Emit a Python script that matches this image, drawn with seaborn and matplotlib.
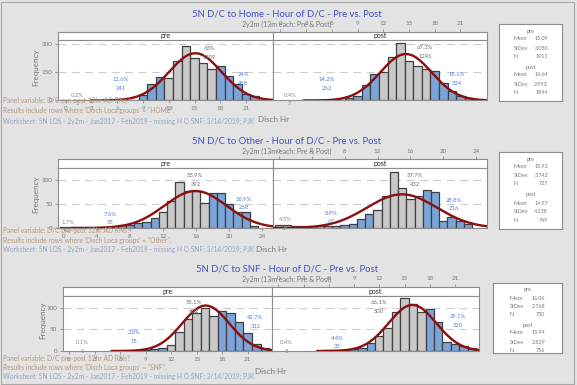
import numpy as np
import pandas as pd
import matplotlib
matplotlib.use('Agg')
import matplotlib.pyplot as plt
from matplotlib.patches import Rectangle
import seaborn as sns

sns.set_theme(style='white')
plt.rcParams['font.family'] = ['Lato', 'DejaVu Sans']

# --- data: counts per discharge hour (bin centres 0..23) ---
hours = list(range(24))
home_pre = [0, 0, 0, 0, 0, 0, 3, 1, 3, 28, 85, 124, 120, 210, 290, 224, 198, 167, 182, 132, 85, 36, 23, 0]
home_post = [0, 0, 0, 0, 0, 3, 4, 4, 12, 25, 80, 141, 150, 231, 302, 208, 184, 166, 155, 95, 50, 22, 12, 0]
other_pre = [2, 2, 1, 1, 1, 2, 3, 6, 7, 10, 12, 20, 33, 56, 96, 77, 77, 53, 73, 73, 50, 34, 33, 5]
other_post = [6, 6, 5, 4, 4, 4, 5, 4, 6, 9, 18, 30, 37, 66, 118, 84, 60, 67, 80, 75, 15, 22, 15, 9]
snf_pre = [0, 0, 0, 0, 0, 0, 1, 0, 1, 2, 4, 8, 14, 45, 74, 88, 99, 82, 93, 88, 67, 42, 16, 6]
snf_post = [0, 0, 0, 0, 0, 1, 2, 2, 3, 4, 6, 18, 34, 53, 91, 123, 109, 90, 98, 68, 20, 16, 12, 6]

region_breaks = [7, 12, 18]

# summary stats (mean, stdev, N)
home_pre_stats = (15.09, 3.050, 1911)
home_post_stats = (14.64, 2.993, 1844)
other_pre_stats = (15.92, 3.742, 727)
other_post_stats = (14.97, 4.238, 749)
snf_pre_stats = (16.06, 2.768, 730)
snf_post_stats = (15.94, 2.829, 756)

# region labels (percent, count)
home_pre_pct = ['0.2%', '12.6%', '63%', '24%']
home_pre_n = ['3', '241', '1209', '458']
home_post_pct = ['0.4%', '14.2%', '67.3%', '18.1%']
home_post_n = ['7', '262', '1241', '334']
other_pre_pct = ['1.7%', '7.6%', '53.9%', '36.9%']
other_pre_n = ['12', '55', '392', '268']
other_post_pct = ['4.5%', '8.9%', '57.7%', '28.8%']
other_post_n = ['34', '67', '432', '216']
snf_pre_pct = ['0.1%', '2.0%', '55.1%', '42.7%']
snf_pre_n = ['1', '15', '402', '312']
snf_post_pct = ['0.4%', '4.4%', '66.1%', '29.1%']
snf_post_n = ['3', '33', '500', '220']

# --- styling ---
BG = '#e3e3e3'
BAR_COLORS = ['#c9c9c9', '#7ba4d8', '#c9c9c9', '#7ba4d8']
LBL_COLORS = ['#8a8a8a', '#4f80d8', '#6e6e6e', '#4f80d8']
EDGE = '#404040'
CURVE = '#8b0f0f'
TITLE = '#3f4fc8'
GREY = '#777777'
SPINE = '#8c8c8c'
FOOT = '#b39a7e'
FOOT_WS = '#8fa6c2'

W, H = 577, 385
fig = plt.figure(figsize=(W / 100, H / 100), dpi=100, facecolor=BG)


def add_ax(x0, y0, x1, y1):
    return fig.add_axes([x0 / W, 1 - y1 / H, (x1 - x0) / W, (y1 - y0) / H])


def ftext(x, y, s, **kw):
    fig.text(x / W, 1 - y / H, s, **kw)


def style_spines(ax):
    for sp in ax.spines.values():
        sp.set_color(SPINE)
        sp.set_linewidth(0.8)


def draw_panel(lay, x0, x1, counts, stats, pcts, ns, lpos, label, first):
    strip = add_ax(x0, lay['strip'], x1, lay['top'])
    ax = add_ax(x0, lay['top'], x1, lay['bottom'])

    df = pd.DataFrame({'hour': hours, 'n': counts})
    df['region'] = np.searchsorted(region_breaks, df['hour'], side='right')
    df = df[df['n'] > 0]
    for r, col in enumerate(BAR_COLORS):
        sub = df[df['region'] == r]
        if len(sub):
            sns.histplot(data=sub, x='hour', weights='n', discrete=True, color=col,
                         edgecolor=EDGE, linewidth=0.9, alpha=1, ax=ax, zorder=2)

    mean, sd, n = stats
    lo, hi = lay['xlim']
    xs = np.linspace(max(lo, mean - 4 * sd), min(hi, mean + 4 * sd), 300)
    ys = n * np.exp(-0.5 * ((xs - mean) / sd) ** 2) / (sd * np.sqrt(2 * np.pi))
    sns.lineplot(x=xs, y=ys, ax=ax, color=CURVE, linewidth=1.7, zorder=4)

    for yt in lay['yticks'][1:]:
        ax.axhline(yt, color='#cccccc', lw=0.8, dashes=(7, 5), zorder=0)

    for i in range(4):
        hx, hy = lpos[i]
        ax.text(hx, hy, pcts[i], color=LBL_COLORS[i], fontsize=4.2, ha='center', va='center', zorder=5)
        ax.annotate(ns[i], (hx, hy), xytext=(0, -6.2), textcoords='offset points',
                    color=LBL_COLORS[i], fontsize=4.2, ha='center', va='center', zorder=5,
                    annotation_clip=False)

    ax.set_xlim(lo, hi)
    ax.set_ylim(0, lay['ymax'])
    ax.set_xlabel('')
    ax.set_ylabel('')
    ax.set_facecolor('white')
    style_spines(ax)
    ax.tick_params(length=2.5, width=0.6, color=SPINE, labelsize=4.5, labelcolor=GREY, pad=1.5)
    if first:
        ax.set_yticks(lay['yticks'])
        ax.set_xticks(lay['xticks'])
        ax.tick_params(left=True, bottom=True)
    else:
        ax.set_yticks([])
        ax.set_xticks([])

    strip.set_facecolor('white')
    style_spines(strip)
    strip.set_yticks([])
    strip.set_xlim(lo, hi)
    if first:
        strip.set_xticks([])
    else:
        strip.xaxis.tick_top()
        strip.set_xticks(lay['xticks'])
        strip.tick_params(top=True, length=2.5, width=0.6, color=SPINE, labelsize=4.5,
                          labelcolor=GREY, pad=1.5)
    strip.text(0.5, 0.5, label, transform=strip.transAxes, ha='center', va='center',
               fontsize=5, color='#222222')


def draw_block(lay, pre, post, pre_stats, post_stats, pre_pct, pre_n, post_pct, post_n, where):
    ftext(287, lay['title_y'], lay['title'], color=TITLE, fontsize=6.8, ha='center', va='center')
    ftext(287, lay['title_y'] + 10, '2y2m (13m each: Pre & Post)', color=GREY, fontsize=5,
          ha='center', va='center')
    x0, xm, x1 = lay['px']
    draw_panel(lay, x0, xm, pre, pre_stats, pre_pct, pre_n, lay['pre_lbl'], 'pre', True)
    draw_panel(lay, xm, x1, post, post_stats, post_pct, post_n, lay['post_lbl'], 'post', False)

    fx, fy = lay['freq']
    ftext(fx, fy, 'Frequency', rotation=90, color=GREY, fontsize=5.8, ha='center', va='center')
    dx, dy = lay['disch']
    ftext(dx, dy, 'Disch Hr', color=GREY, fontsize=5.8, ha='center', va='center')

    f1, f2, f3 = lay['foot']
    ftext(3, f1, 'Panel variable: D/C pre-post 12hr AD RNs?', color=FOOT, fontsize=4.8, va='center')
    ftext(3, f2, "Results include rows where 'Disch Loca groups' = \"%s\"." % where,
          color=FOOT, fontsize=4.8, va='center')
    ftext(3, f3, 'Worksheet: 5N LOS - 2y2m - Jan2017 - Feb2019 - missing H O SNF; 3/14/2019; PJK',
          color=FOOT_WS, fontsize=4.8, va='center')

    bx0, by0, bx1, by1 = lay['box']
    box = add_ax(bx0, by0, bx1, by1)
    box.set_facecolor('white')
    style_spines(box)
    box.set_xticks([])
    box.set_yticks([])
    rows = lay['rows']
    cx = (bx0 + bx1) / 2
    lx, rx = lay['stat_x']
    for k, (name, st) in enumerate([('pre', pre_stats), ('post', post_stats)]):
        r = rows[k * 4:(k + 1) * 4]
        ftext(cx, r[0], name, color=GREY, fontsize=3.9, ha='center', va='center')
        vals = ['%.2f' % st[0], '%.3f' % st[1], '%d' % st[2]]
        for j, lab in enumerate(['Mean', 'StDev', 'N']):
            ftext(lx, r[j + 1], lab, color=GREY, fontsize=3.9, va='center')
            ftext(rx, r[j + 1], vals[j], color=GREY, fontsize=3.9, va='center', ha='right')


home_lay = dict(title='5N D/C to Home - Hour of D/C - Pre vs. Post', title_y=14,
                px=(58, 272.7, 487), strip=31.7, top=40, bottom=100.5, ymax=320,
                yticks=[0, 150, 300], xlim=(-0.9, 24.1), xticks=list(range(0, 24, 3)),
                freq=(36, 67), disch=(274, 120), foot=(100, 111, 121),
                box=(499, 24, 562, 101), stat_x=(514, 548),
                rows=[31, 39, 48, 56, 67, 75, 84, 92],
                pre_lbl=[(1.3, 29), (6.4, 109), (16.7, 273), (20.7, 135)],
                post_lbl=[(1.1, 29), (5.4, 109), (16.9, 278), (20.6, 135)])

other_lay = dict(title='5N D/C to Other - Hour of D/C - Pre vs. Post', title_y=141,
                 px=(58, 273, 487), strip=159.3, top=168.3, bottom=228, ymax=125,
                 yticks=[0, 50, 100], xlim=(-0.7, 25.3), xticks=list(range(0, 25, 4)),
                 freq=(36, 194), disch=(272, 249), foot=(231, 240, 249),
                 box=(499, 152, 562, 229), stat_x=(514, 548),
                 rows=[159, 167, 176, 184, 195, 204, 212, 220],
                 pre_lbl=[(0.5, 12), (5.6, 29), (15.9, 110), (21.8, 60)],
                 post_lbl=[(0.8, 17), (6.4, 31), (16.5, 110), (21.3, 58)])

snf_lay = dict(title='5N D/C to SNF - Hour of D/C - Pre vs. Post', title_y=269,
               px=(62.7, 272, 479), strip=286.7, top=295.7, bottom=351, ymax=128,
               yticks=[0, 50, 100], xlim=(-0.75, 23.85), xticks=list(range(0, 24, 3)),
               freq=(42.7, 320), disch=(271, 371), foot=(359, 367.5, 376),
               box=(493, 283, 562, 353), stat_x=(510, 545),
               rows=[289, 298, 307, 314, 326, 333, 342, 350],
               pre_lbl=[(1.6, 19), (7.6, 42), (14.7, 112), (21.9, 77)],
               post_lbl=[(1.0, 19), (7.0, 30), (11.9, 112), (21.3, 79)])

draw_block(home_lay, home_pre, home_post, home_pre_stats, home_post_stats,
           home_pre_pct, home_pre_n, home_post_pct, home_post_n, 'HOME')
draw_block(other_lay, other_pre, other_post, other_pre_stats, other_post_stats,
           other_pre_pct, other_pre_n, other_post_pct, other_post_n, 'Other')
draw_block(snf_lay, snf_pre, snf_post, snf_pre_stats, snf_post_stats,
           snf_pre_pct, snf_pre_n, snf_post_pct, snf_post_n, 'SNF')

fig.patches.append(Rectangle((1 / W, 1 / H), 573 / W, 382 / H, transform=fig.transFigure,
                             fill=False, edgecolor='#a8a8a8', linewidth=0.8))

fig.savefig('out.png', dpi=100, facecolor=BG)
